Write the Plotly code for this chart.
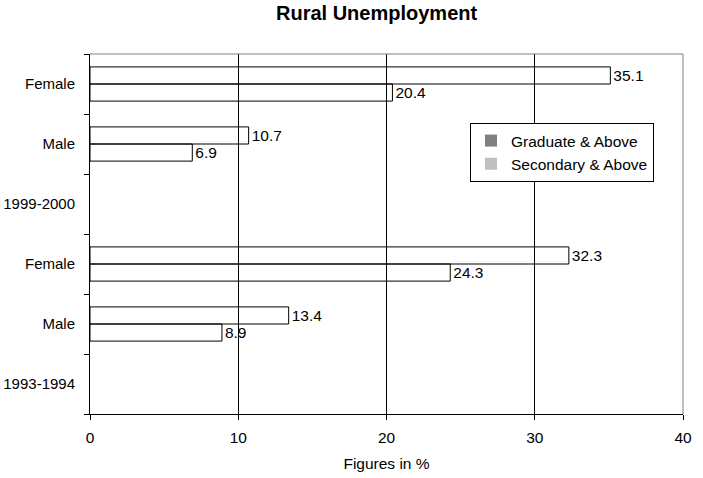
import plotly.graph_objects as go

categories = ["1993-1994", "Male", "Female", "1999-2000", "Male", "Female"]
graduate = [None, 13.4, 32.3, None, 10.7, 35.1]
secondary = [None, 8.9, 24.3, None, 6.9, 20.4]
series_names = ["Graduate & Above", "Secondary & Above"]
legend_colors = ["#808080", "#C0C0C0"]
x_ticks = [0, 10, 20, 30, 40]

FONT = "Arial, Liberation Sans, sans-serif"
FS = 15.5
ypos = list(range(len(categories)))

fig = go.Figure()
# Secondary first so it sits at the bottom of each group
for name, vals in [(series_names[1], secondary), (series_names[0], graduate)]:
    fig.add_trace(go.Bar(
        y=ypos, x=vals, orientation="h", name=name, showlegend=False,
        marker=dict(color="rgba(0,0,0,0)", line=dict(color="black", width=1)),
        text=[("" if v is None else f"{v}") for v in vals],
        textposition="outside", cliponaxis=False,
        textfont=dict(family=FONT, size=FS, color="black"),
    ))

for name, col in zip(series_names, legend_colors):
    fig.add_trace(go.Scatter(
        x=[None], y=[None], mode="markers", name=name,
        marker=dict(symbol="square", size=12, color=col),
    ))

fig.update_layout(
    width=703, height=478,
    margin=dict(l=90, r=20, t=54, b=64, autoexpand=False),
    paper_bgcolor="white", plot_bgcolor="white",
    barmode="group", bargap=0.43, bargroupgap=0,
    font=dict(family=FONT, size=FS, color="black"),
    showlegend=True,
    legend=dict(
        x=(470 - 90) / 593, y=(414 - 123) / 360, xanchor="left", yanchor="top",
        bordercolor="black", borderwidth=1, bgcolor="white",
        font=dict(family=FONT, size=FS, color="black"),
        itemwidth=30, tracegroupgap=0,
    ),
    annotations=[dict(
        text="<b>Rural Unemployment</b>", xref="paper", yref="paper",
        x=(376 - 90) / 593, y=1, yshift=41, xanchor="center", yanchor="middle",
        showarrow=False, font=dict(family=FONT, size=20, color="black"),
    )],
    shapes=[
        dict(type="line", xref="paper", yref="paper", x0=0, x1=1, y0=1, y1=1,
             line=dict(color="#808080", width=1), layer="above"),
        dict(type="line", xref="paper", yref="paper", x0=1, x1=1, y0=0, y1=1,
             line=dict(color="#808080", width=1), layer="above"),
    ],
)

fig.update_xaxes(
    range=[0, 40], tickvals=x_ticks, ticks="outside", ticklen=5,
    tickcolor="black", showline=True, linecolor="black", linewidth=1,
    showgrid=True, gridcolor="black", gridwidth=1, zeroline=False,
    ticklabelstandoff=4, automargin=False,
    title=dict(text="Figures in %", font=dict(family=FONT, size=FS), standoff=13),
    tickfont=dict(family=FONT, size=FS),
)
fig.update_yaxes(
    range=[-0.5, len(categories) - 0.5], tickvals=ypos, ticktext=categories,
    ticks="outside", ticklen=11, tickcolor="rgba(0,0,0,0)", automargin=False,
    showline=True, linecolor="black", linewidth=1, showgrid=False, zeroline=False,
    tickfont=dict(family=FONT, size=15),
    minor=dict(tickmode="array", tickvals=[i - 0.5 for i in range(len(categories) + 1)],
               ticks="outside", ticklen=5, tickcolor="black", showgrid=False),
)

fig.write_html(
    "out.html",
    config={"displayModeBar": False},
    post_script="document.body.style.margin='0';document.body.style.overflow='hidden';",
)
